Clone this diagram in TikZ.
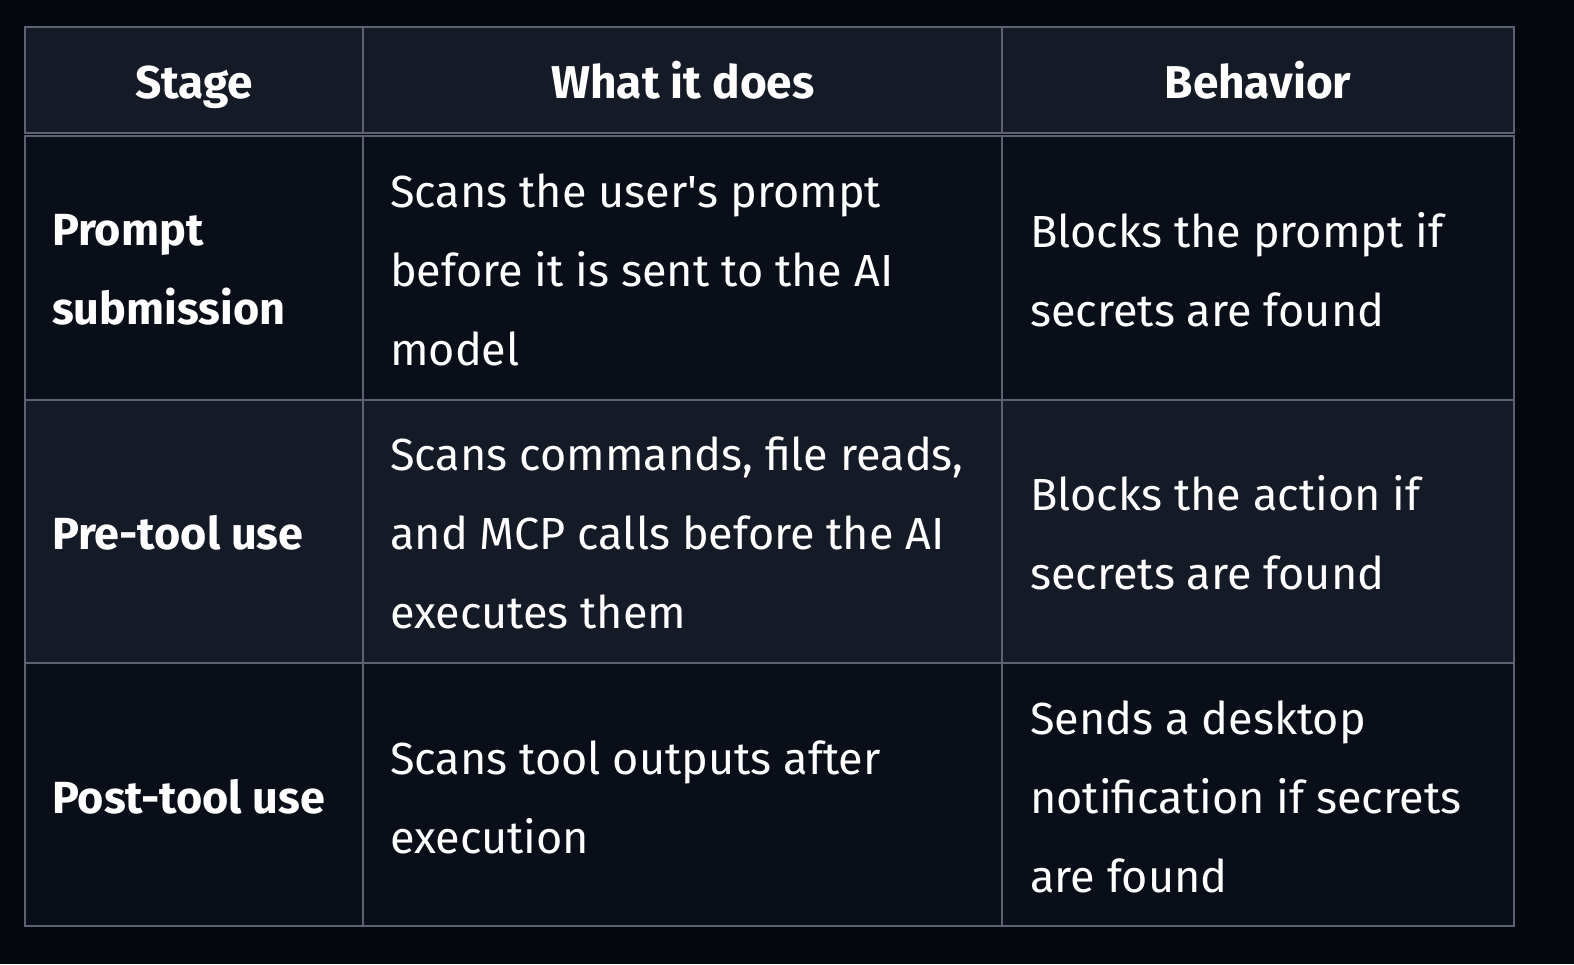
\documentclass[tikz,border=0pt]{standalone}
\usepackage{fontspec}
\setmainfont{Fira Sans}
\definecolor{bg}{HTML}{05080F}
\definecolor{light}{HTML}{141A26}
\definecolor{dark}{HTML}{0A0E18}
\definecolor{grid}{HTML}{5C6270}
\begin{document}
\begin{tikzpicture}[x=1pt,y=-1pt,
 cell/.style={draw=grid,line width=2pt},
 txt/.style={text=white,font=\fontsize{45}{79}\selectfont,align=left,anchor=west,inner sep=0pt},
 hd/.style={text=white,font=\fontsize{46}{79}\selectfont\bfseries,inner sep=0pt,anchor=base}]
\fill[bg] (0,0) rectangle (1574,964);
\useasboundingbox (0,0) rectangle (1574,964);
\filldraw[cell,fill=light] (25,27) rectangle (363,133);
\filldraw[cell,fill=light] (363,27) rectangle (1002,133);
\filldraw[cell,fill=light] (1002,27) rectangle (1514,133);
\filldraw[cell,fill=dark] (25,136) rectangle (363,400);
\filldraw[cell,fill=dark] (363,136) rectangle (1002,400);
\filldraw[cell,fill=dark] (1002,136) rectangle (1514,400);
\filldraw[cell,fill=light] (25,400) rectangle (363,663);
\filldraw[cell,fill=light] (363,400) rectangle (1002,663);
\filldraw[cell,fill=light] (1002,400) rectangle (1514,663);
\filldraw[cell,fill=dark] (25,663) rectangle (363,926);
\filldraw[cell,fill=dark] (363,663) rectangle (1002,926);
\filldraw[cell,fill=dark] (1002,663) rectangle (1514,926);
\node[hd] (h1) at (194,98) {Stage};
\node[hd] (h2) at (683,98) {What it does};
\node[hd] (h3) at (1258,98) {Behavior};
\node[txt,font=\fontsize{45}{79}\selectfont\bfseries] (a1) at (52,270) {Prompt\\submission};
\node[txt] (b1) at (390,270) {Scans the user\textquotesingle s prompt\\before it is sent to the AI\\model};
\node[txt] (c1) at (1030,270) {Blocks the prompt if\\secrets are found};
\node[txt,font=\fontsize{45}{79}\selectfont\bfseries] (a2) at (52,533) {Pre-tool use};
\node[txt] (b2) at (390,533) {Scans commands, file reads,\\and MCP calls before the AI\\executes them};
\node[txt] (c2) at (1030,533) {Blocks the action if\\secrets are found};
\node[txt,font=\fontsize{45}{79}\selectfont\bfseries] (a3) at (52,797) {Post-tool use};
\node[txt] (b3) at (390,797) {Scans tool outputs after\\execution};
\node[txt] (c3) at (1030,797) {Sends a desktop\\notification if secrets\\are found};
\end{tikzpicture}
\end{document}
